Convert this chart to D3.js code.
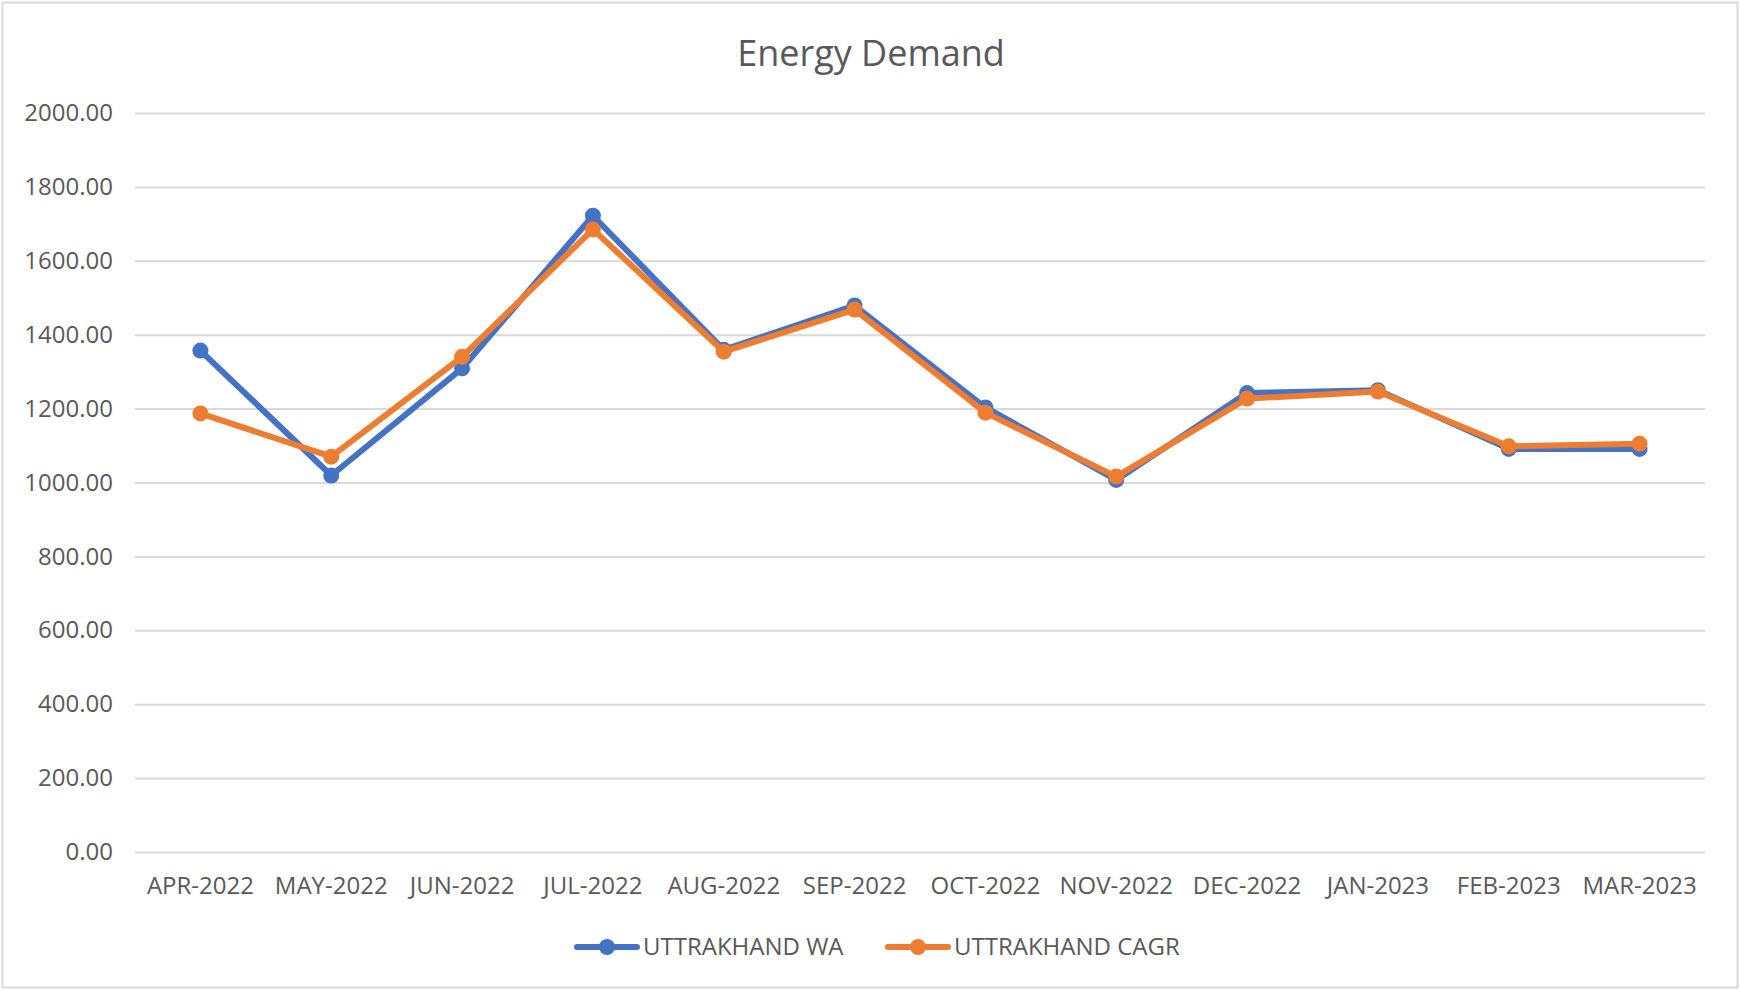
<!DOCTYPE html>
<html>
<head>
<meta charset="utf-8">
<script src="https://cdn.jsdelivr.net/npm/d3@7"></script>
<style>
  body { margin: 0; background: #fff; }
  svg text { font-family: "Open Sans", sans-serif; fill: #595959; }
</style>
</head>
<body>
<script>
const w = 1740;
const h = 990;

// chart data
const months = ["APR-2022", "MAY-2022", "JUN-2022", "JUL-2022", "AUG-2022", "SEP-2022",
                "OCT-2022", "NOV-2022", "DEC-2022", "JAN-2023", "FEB-2023", "MAR-2023"];
const waValues   = [1357, 1019, 1309, 1722, 1359, 1479, 1203, 1007, 1242, 1250, 1091, 1091];
const cagrValues = [1187, 1070, 1340, 1685, 1354, 1468, 1189, 1016, 1227, 1246, 1098, 1105];
const yTicks = [0, 200, 400, 600, 800, 1000, 1200, 1400, 1600, 1800, 2000];
const seriesNames = ["UTTRAKHAND WA", "UTTRAKHAND CAGR"];
const seriesColors = ["#4472C4", "#ED7D31"];

const plot = { left: 135, right: 1705, top: 113, bottom: 852 };

const svg = d3.select("body")
    .append("svg")
    .attr("width", w)
    .attr("height", h);

// outer frame
svg.append("rect")
    .attr("x", 2.5).attr("y", 2.5)
    .attr("width", w - 5).attr("height", h - 5)
    .attr("fill", "#fff")
    .attr("stroke", "#d9d9d9")
    .attr("stroke-width", 2);

svg.append("text")
    .attr("x", 871)
    .attr("y", 66)
    .attr("text-anchor", "middle")
    .style("font-size", "36px")
    .text("Energy Demand");

const xScale = d3.scaleBand()
    .domain(months)
    .range([plot.left, plot.right]);

const yScale = d3.scaleLinear()
    .domain([0, 2000])
    .range([plot.bottom, plot.top]);

// gridlines + y labels
const yAxis = d3.axisLeft(yScale)
    .tickValues(yTicks)
    .tickFormat(d3.format(".2f"))
    .tickSize(-(plot.right - plot.left))
    .tickPadding(22);

svg.append("g")
    .attr("transform", `translate(${plot.left},0)`)
    .call(yAxis)
    .call(g => g.select(".domain").remove())
    .call(g => g.selectAll("line").attr("stroke", "#d9d9d9").attr("stroke-width", 2))
    .call(g => g.selectAll("text").style("font-size", "24px").attr("fill", "#595959"));

const xAxis = d3.axisBottom(xScale)
    .tickSize(0)
    .tickPadding(25);

svg.append("g")
    .attr("transform", `translate(0,${plot.bottom})`)
    .call(xAxis)
    .call(g => g.select(".domain").remove())
    .call(g => g.selectAll("text").style("font-size", "24px").attr("fill", "#595959"));

const line = d3.line()
    .x((d, i) => xScale(months[i]) + xScale.bandwidth() / 2)
    .y(d => yScale(d));

[waValues, cagrValues].forEach((vals, k) => {
    svg.append("path")
        .datum(vals)
        .attr("d", line)
        .attr("fill", "none")
        .attr("stroke", seriesColors[k])
        .attr("stroke-width", 6)
        .attr("stroke-linejoin", "round")
        .attr("stroke-linecap", "round");
    svg.append("g")
        .selectAll("circle")
        .data(vals)
        .enter()
        .append("circle")
        .attr("cx", (d, i) => xScale(months[i]) + xScale.bandwidth() / 2)
        .attr("cy", d => yScale(d))
        .attr("r", 8)
        .attr("fill", seriesColors[k]);
});

// legend
const legendX = [577, 888];
const legend = svg.append("g");
seriesNames.forEach((name, k) => {
    const g = legend.append("g").attr("transform", `translate(${legendX[k]},947)`);
    g.append("line")
        .attr("x1", 0).attr("x2", 60)
        .attr("stroke", seriesColors[k])
        .attr("stroke-width", 6)
        .attr("stroke-linecap", "round");
    g.append("circle")
        .attr("cx", 30).attr("r", 8)
        .attr("fill", seriesColors[k]);
    g.append("text")
        .attr("x", 66)
        .attr("dy", "0.35em")
        .style("font-size", "24px")
        .text(name);
});
</script>
</body>
</html>
